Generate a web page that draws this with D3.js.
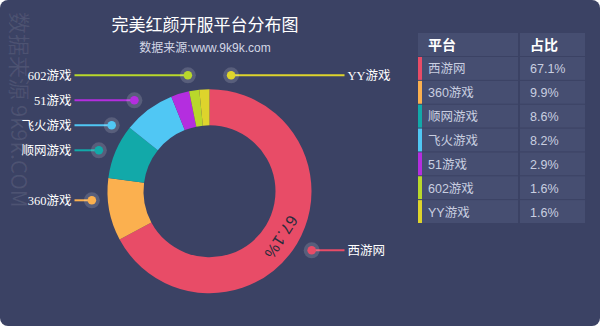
<!DOCTYPE html>
<html>
<head>
<meta charset="utf-8">
<script src="https://cdn.jsdelivr.net/npm/d3@7"></script>
<style>
	html, body { margin: 0; padding: 0; background: #fff; }
	svg { display: block; }
</style>
</head>
<body>
<svg id="chart"></svg>
<script>
// chart data
const platforms = ['西游网', '360游戏', '顺网游戏', '飞火游戏', '51游戏', '602游戏', 'YY游戏'];
const shares = [67.1, 9.9, 8.6, 8.2, 2.9, 1.6, 1.6];
const sliceColors = ['#e84c67', '#fbb04f', '#12a9a9', '#50c7f4', '#b42edf', '#b9d82b', '#ded42c'];
const tableHead = ['平台', '占比'];

const W = 600, H = 326, BG = '#3b4264', CELL = '#464e71';
const cx = 209.5, cy = 191.3, rOuter = 102, rInner = 66,
	labelR = 118, labelStep = 25;

const svg = d3.select('#chart').attr('width', W).attr('height', H);

svg.append('rect').attr('width', W).attr('height', H).attr('rx', 8).attr('fill', BG);

// watermark
svg.append('text')
	.attr('transform', 'translate(11,12) rotate(90)')
	.attr('font-family', '"Noto Sans CJK SC", "Liberation Sans", sans-serif')
	.attr('font-size', 22)
	.attr('fill', 'rgba(255,255,255,0.09)')
	.text('数据来源 9k9k.COM');

// titles
svg.append('text')
	.attr('x', 205).attr('y', 31)
	.attr('text-anchor', 'middle')
	.attr('font-family', '"Noto Sans CJK SC", sans-serif')
	.attr('font-size', 17)
	.attr('fill', '#fff')
	.text('完美红颜开服平台分布图');
svg.append('text')
	.attr('x', 205).attr('y', 52)
	.attr('text-anchor', 'middle')
	.attr('font-family', '"Liberation Sans", "Noto Sans CJK SC", sans-serif')
	.attr('font-size', 12)
	.attr('fill', '#d3d7e6')
	.text('数据来源:www.9k9k.com');

// donut
const pie = d3.pie().sort(null).value(d => d.v);
const arcs = pie(platforms.map((p, i) => ({ name: p, v: shares[i], c: sliceColors[i] })));
const arc = d3.arc().innerRadius(rInner).outerRadius(rOuter);

const g = svg.append('g').attr('transform', `translate(${cx},${cy})`);
g.selectAll('path.slice').data(arcs).enter().append('path')
	.attr('class', 'slice')
	.attr('d', arc)
	.attr('fill', d => d.data.c);

// percentage text inside big slices
const midRadius = (rInner + rOuter) / 2 + 1;
g.selectAll('text.pct').data(arcs.filter(d => d.endAngle - d.startAngle > 1)).enter()
	.append('text')
	.attr('class', 'pct')
	.attr('transform', d => {
		const a = (d.startAngle + d.endAngle) / 2 + 0.03;
		const x = Math.sin(a) * midRadius, y = -Math.cos(a) * midRadius;
		return `translate(${x},${y}) rotate(${a * 180 / Math.PI})`;
	})
	.attr('text-anchor', 'middle')
	.attr('dy', '0.35em')
	.attr('font-family', '"Liberation Sans", sans-serif')
	.attr('font-size', 16)
	.attr('letter-spacing', 0.5)
	.attr('fill', '#2a2b3c')
	.text(d => d.data.v.toFixed(1) + '%');

// callout labels: natural position on a ring, then snapped into free slots
const slotTop = cy - labelR + 2;
const labels = arcs.map(d => {
	const a = (d.startAngle + d.endAngle) / 2;
	return { d, nx: cx + Math.sin(a) * labelR, ny: cy - Math.cos(a) * labelR };
});
labels.forEach(l => { l.right = l.nx >= cx - 8; });

[true, false].forEach(side => {
	const taken = new Set();
	labels.filter(l => l.right === side)
		.sort((a, b) => a.ny - b.ny)
		.forEach(l => {
			let k = Math.max(0, Math.floor((l.ny - slotTop) / labelStep));
			while (taken.has(k)) k++;
			taken.add(k);
			l.y = slotTop + k * labelStep;
			const dy = l.y - cy;
			const dx = Math.sqrt(Math.max(0, labelR * labelR - dy * dy));
			l.x = side ? cx + dx : cx - dx;
		});
});

const lineEnd = 135, textOff = 138;
const lg = svg.append('g');
const item = lg.selectAll('g.callout').data(labels).enter().append('g').attr('class', 'callout');
item.append('line')
	.attr('x1', l => l.x).attr('y1', l => l.y)
	.attr('x2', l => l.right ? cx + lineEnd : cx - lineEnd).attr('y2', l => l.y)
	.attr('stroke', l => l.d.data.c)
	.attr('stroke-width', 2);
item.append('circle')
	.attr('cx', l => l.x).attr('cy', l => l.y).attr('r', 8)
	.attr('fill', 'rgba(255,255,255,0.15)');
item.append('circle')
	.attr('cx', l => l.x).attr('cy', l => l.y).attr('r', 4.3)
	.attr('fill', l => l.d.data.c);
item.append('text')
	.attr('x', l => l.right ? cx + textOff : cx - textOff)
	.attr('y', l => l.y)
	.attr('dy', '0.36em')
	.attr('text-anchor', l => l.right ? 'start' : 'end')
	.attr('font-family', '"Liberation Serif", "Noto Sans CJK SC", serif')
	.attr('font-size', 12.5)
	.attr('fill', '#fff')
	.text(l => l.d.data.name);

// table
const tx0 = 418, tx1 = 585, colSplit = 519, ty0 = 33, headH = 23;
const rowY = d3.scaleBand().domain(platforms).range([ty0 + headH + 1, 224]).paddingInner(0);
const rowH = rowY.bandwidth();
const tbl = svg.append('g');

tbl.append('rect').attr('x', tx0).attr('y', ty0).attr('width', colSplit - tx0 - 1).attr('height', headH).attr('fill', CELL);
tbl.append('rect').attr('x', colSplit + 1).attr('y', ty0).attr('width', tx1 - colSplit - 1).attr('height', headH).attr('fill', CELL);
tbl.selectAll('text.head').data(tableHead).enter().append('text')
	.attr('class', 'head')
	.attr('x', (d, i) => i ? 530 : 428)
	.attr('y', ty0 + headH / 2).attr('dy', '0.36em')
	.attr('font-family', '"Noto Sans CJK SC", sans-serif')
	.attr('font-size', 14).attr('font-weight', 'bold')
	.attr('fill', '#fff')
	.text(d => d);

const row = tbl.selectAll('g.row').data(platforms).enter().append('g').attr('class', 'row');
row.append('rect')
	.attr('x', tx0).attr('y', d => rowY(d)).attr('width', colSplit - tx0 - 1).attr('height', rowH - 1)
	.attr('fill', CELL);
row.append('rect')
	.attr('x', colSplit + 1).attr('y', d => rowY(d)).attr('width', tx1 - colSplit - 1).attr('height', rowH - 1)
	.attr('fill', CELL);
row.append('rect')
	.attr('x', tx0).attr('y', d => rowY(d)).attr('width', 4).attr('height', rowH - 1)
	.attr('fill', (d, i) => sliceColors[i]);
row.append('text')
	.attr('x', 428).attr('y', d => rowY(d) + rowH / 2).attr('dy', '0.36em')
	.attr('font-family', '"Liberation Sans", "Noto Sans CJK SC", sans-serif')
	.attr('font-size', 12.5).attr('fill', '#c9cee0')
	.text(d => d);
row.append('text')
	.attr('x', 530).attr('y', d => rowY(d) + rowH / 2).attr('dy', '0.36em')
	.attr('font-family', '"Liberation Sans", sans-serif')
	.attr('font-size', 12.5).attr('fill', '#c9cee0')
	.text((d, i) => shares[i].toFixed(1) + '%');
</script>
</body>
</html>
